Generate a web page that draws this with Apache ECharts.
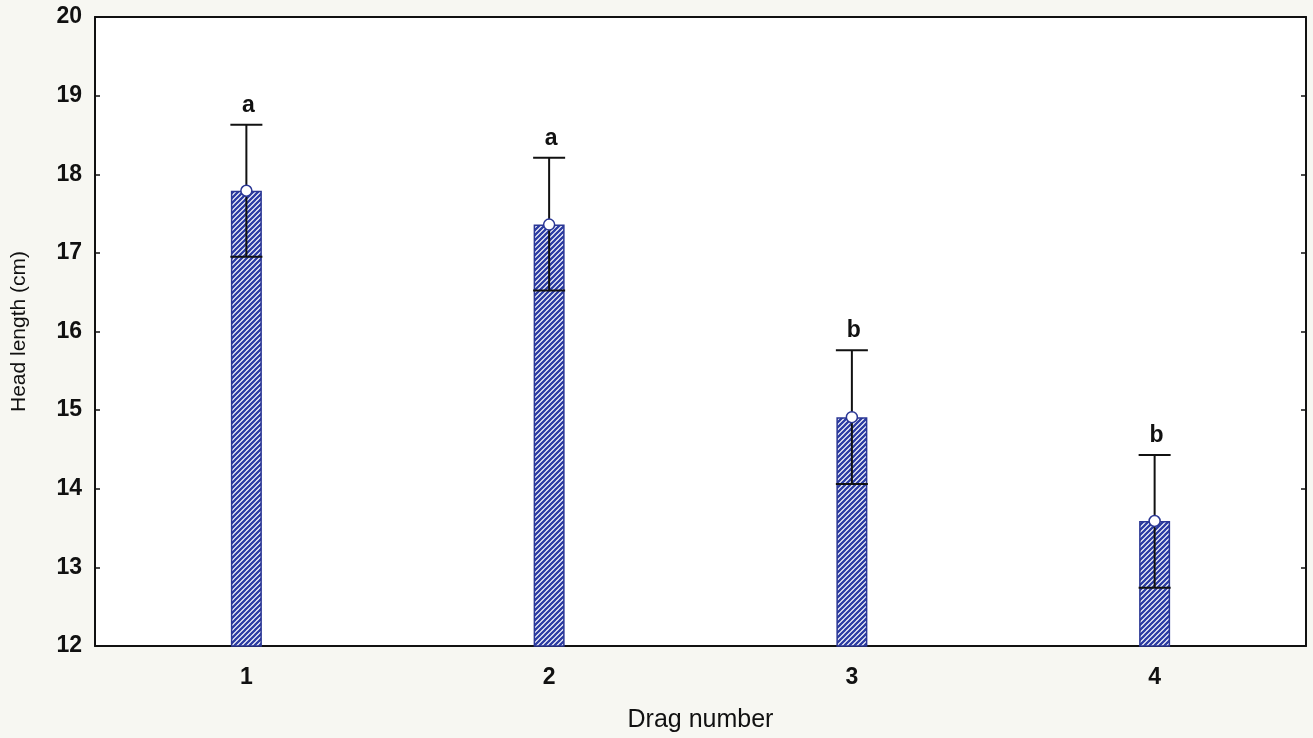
<!DOCTYPE html>
<html>
<head>
<meta charset="utf-8">
<script src="https://cdn.jsdelivr.net/npm/echarts@6/dist/echarts.min.js"></script>
<style>
  html, body { margin: 0; padding: 0; background: #f7f7f2; }
  #chart { width: 1313px; height: 738px; }
</style>
</head>
<body>
<div id="chart"></div>
<script>
// Head length per drag: mean with upper/lower error limits and group letters
const categories = ['1', '2', '3', '4'];
const means = [17.79, 17.36, 14.91, 13.59];
const upperLimits = [18.63, 18.21, 15.76, 14.43];
const lowerLimits = [16.95, 16.52, 14.06, 12.74];
const groupLetters = ['a', 'a', 'b', 'b'];
const yTicks = { min: 12, max: 20, interval: 1 };

// Diagonal hatch fill for the bars
function makeHatch() {
  const s = 5;
  const c = document.createElement('canvas');
  c.width = s; c.height = s;
  const g = c.getContext('2d');
  g.fillStyle = '#ffffff';
  g.fillRect(0, 0, s, s);
  g.strokeStyle = '#2c3ca4';
  g.lineWidth = 2.3;
  g.beginPath();
  g.moveTo(-1, s + 1); g.lineTo(s + 1, -1);
  g.moveTo(-1, 1); g.lineTo(1, -1);
  g.moveTo(s - 1, s + 1); g.lineTo(s + 1, s - 1);
  g.stroke();
  return c;
}

const errorData = categories.map((c, i) => [i, lowerLimits[i], upperLimits[i], means[i], groupLetters[i]]);
const fontFam = 'Liberation Sans, Arial, sans-serif';

const chart = echarts.init(document.getElementById('chart'), null, { renderer: 'canvas' });
chart.setOption({
  backgroundColor: '#f7f7f2',
  animation: false,
  grid: { left: 95, right: 7, top: 17, bottom: 90, show: true, backgroundColor: '#ffffff', borderWidth: 0 },
  xAxis: [{
    type: 'category',
    data: categories,
    axisLine: { lineStyle: { color: '#111', width: 2 } },
    axisTick: { show: true, inside: true, alignWithLabel: true, length: 5, lineStyle: { color: '#111', width: 1.5 } },
    axisLabel: { color: '#111', fontSize: 23, fontWeight: 'bold', fontFamily: fontFam, margin: 20 },
    name: 'Drag number',
    nameLocation: 'middle',
    nameGap: 62,
    nameTextStyle: { color: '#111', fontSize: 25, fontFamily: fontFam }
  }, {
    type: 'category',
    data: categories,
    position: 'top',
    axisLine: { lineStyle: { color: '#111', width: 2 } },
    axisTick: { show: false },
    axisLabel: { show: false }
  }],
  yAxis: [{
    type: 'value',
    min: yTicks.min,
    max: yTicks.max,
    interval: yTicks.interval,
    axisLine: { show: true, lineStyle: { color: '#111', width: 2 } },
    axisTick: { show: true, inside: true, length: 5, lineStyle: { color: '#111', width: 1.5 } },
    axisLabel: { color: '#111', fontSize: 23, fontWeight: 'bold', fontFamily: fontFam, margin: 13 },
    splitLine: { show: false },
    name: 'Head length (cm)',
    nameLocation: 'middle',
    nameGap: 65,
    nameTextStyle: { color: '#111', fontSize: 21, fontFamily: fontFam }
  }, {
    type: 'value',
    position: 'right',
    min: yTicks.min,
    max: yTicks.max,
    interval: yTicks.interval,
    axisLine: { show: true, lineStyle: { color: '#111', width: 2 } },
    axisTick: { show: true, inside: true, length: 5, lineStyle: { color: '#111', width: 1.5 } },
    axisLabel: { show: false },
    splitLine: { show: false }
  }],
  series: [{
    type: 'bar',
    data: means,
    barWidth: 31,
    itemStyle: {
      color: { image: makeHatch(), repeat: 'repeat' },
      borderColor: '#2b3795',
      borderWidth: 1.5
    },
    z: 2
  }, {
    type: 'custom',
    data: errorData,
    z: 5,
    renderItem: function (params, api) {
      const i = api.value(0);
      const lo = api.coord([i, api.value(1)]);
      const hi = api.coord([i, api.value(2)]);
      const mid = api.coord([i, api.value(3)]);
      const half = 16;
      const ls = { stroke: '#111', lineWidth: 2 };
      return {
        type: 'group',
        children: [
          { type: 'line', shape: { x1: hi[0], y1: hi[1], x2: lo[0], y2: lo[1] }, style: ls },
          { type: 'line', shape: { x1: hi[0] - half, y1: hi[1], x2: hi[0] + half, y2: hi[1] }, style: ls },
          { type: 'line', shape: { x1: lo[0] - half, y1: lo[1], x2: lo[0] + half, y2: lo[1] }, style: ls },
          { type: 'circle', shape: { cx: mid[0], cy: mid[1], r: 5.5 }, style: { fill: '#ffffff', stroke: '#2b3795', lineWidth: 1.5 } },
          { type: 'text', style: { text: api.value(4), x: hi[0] + 2, y: hi[1] - 8, align: 'center', verticalAlign: 'bottom',
              fill: '#111', font: 'bold 23px ' + fontFam } }
        ]
      };
    }
  }]
});
</script>
</body>
</html>
